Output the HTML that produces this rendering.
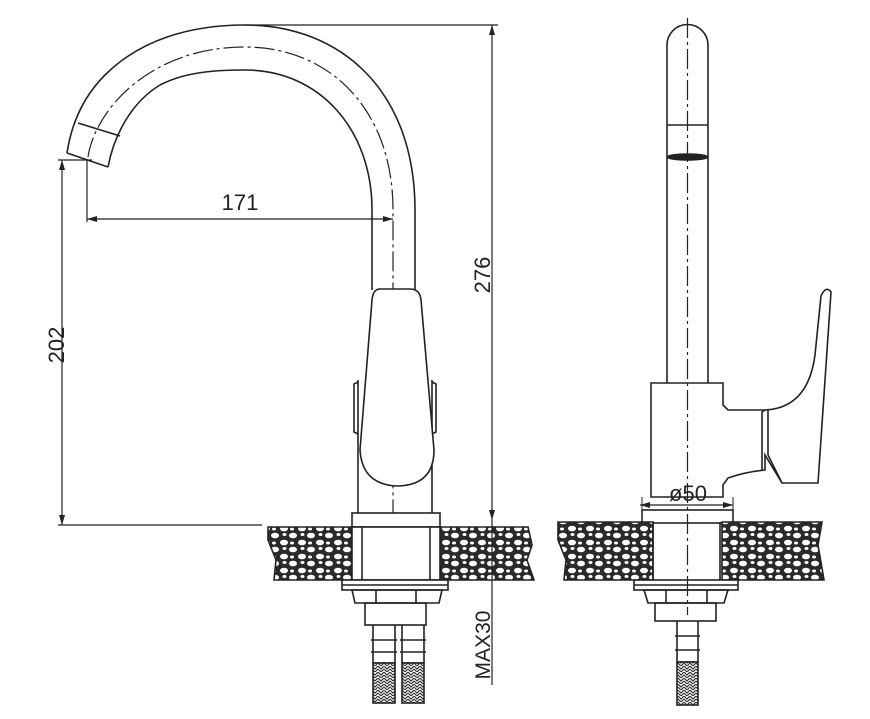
<!DOCTYPE html>
<html><head><style>html,body{margin:0;padding:0;background:#fff}svg{display:block}</style></head>
<body>
<svg width="870" height="719" viewBox="0 0 870 719" xmlns="http://www.w3.org/2000/svg" font-family="Liberation Sans, sans-serif">
<defs>
<pattern id="stone" width="18" height="14" patternUnits="userSpaceOnUse">
<rect width="18" height="14" fill="#2a2a2a"/>
<ellipse cx="5" cy="3.5" rx="4" ry="2.8" fill="#fff"/>
<ellipse cx="14" cy="10.5" rx="4" ry="2.8" fill="#fff"/>
<ellipse cx="14.5" cy="2.5" rx="2" ry="1.5" fill="#fff"/>
<ellipse cx="4" cy="11" rx="2" ry="1.5" fill="#fff"/>
</pattern>
<pattern id="braid" width="6" height="6" patternUnits="userSpaceOnUse">
<rect width="6" height="6" fill="#fff"/>
<path d="M0 0 L3 3 L6 0 M0 3 L3 6 L6 3" stroke="#333" stroke-width="1.2" fill="none"/>
</pattern>
<marker id="ar" viewBox="0 0 10 6" refX="10" refY="3" markerWidth="10" markerHeight="6" orient="auto-start-reverse" markerUnits="userSpaceOnUse"><path d="M0 0 L10 3 L0 6Z" fill="#222"/></marker>
</defs>
<g stroke="#222" stroke-width="1.6" fill="none">
<path d="M67 153 C72 120 85 95 105 75 C140 40 190 25 245 25 C340 25 415 90 415 210 L415 290"/>
<path d="M108 167 C115 130 135 100 160 85 C185 72 215 70 245 70 C320 70 372 130 372 210 L372 290"/>
<path d="M67 153 L108 167"/>
<path d="M78 123 L120 136"/>
<path d="M88 157 C95 110 150 47 245 47 C330 47 393 110 393 210 L393 520" stroke-dasharray="20 4 3 4" stroke-width="1.2"/>
<path d="M358 380 L358 515 M432 380 L432 515"/>
<path d="M358 382 L354 384 L354 432 L358 434 M432 382 L436 384 L436 432 L432 434"/>
<path d="M380 289 L410 289 Q420 289 421 300 L434 450 Q434 485 398 486 Q362 485 360 450 L372 300 Q373 289 380 289Z" fill="#fff"/>
<rect x="352" y="513" width="88" height="14" fill="#fff"/>
<path d="M268 527 L352 527 L352 580 L274 580 L276 560 L268 540Z" fill="url(#stone)"/>
<path d="M440 527 L528 527 L532 545 L527 560 L534 580 L440 580Z" fill="url(#stone)"/>
<rect x="352" y="527" width="88" height="53" fill="#fff"/>
<path d="M362 527 L362 580 M430 527 L430 580"/>
<rect x="342" y="580" width="106" height="10" fill="#fff"/>
<path d="M342 585 L448 585"/>
<path d="M352 590 L442 590 L439 603 L355 603Z M376 590 L376 603 M416 590 L416 603"/>
<rect x="365" y="603" width="61" height="22"/>
<path d="M373 625 L373 663 L395 663 L395 625 M371 640 L397 640 M371 652 L397 652 M402 625 L402 663 L424 663 L424 625 M400 640 L426 640 M400 652 L426 652"/>
<rect x="373" y="663" width="22" height="40" fill="url(#braid)"/>
<rect x="402" y="663" width="22" height="40" fill="url(#braid)"/>
</g>
<g stroke="#222" stroke-width="1.2" fill="none">
<path d="M87 160 L87 222"/>
<path d="M87 219 L393 219" marker-start="url(#ar)" marker-end="url(#ar)"/>
<path d="M58 160 L92 160 M58 525 L262 525"/>
<path d="M62 160 L62 525" marker-start="url(#ar)" marker-end="url(#ar)"/>
<path d="M245 25 L498 25"/>
<path d="M492 25 L492 520" marker-start="url(#ar)" marker-end="url(#ar)"/>
<path d="M492 520 L492 685"/>
</g>
<g stroke="#222" stroke-width="1.6" fill="none">
<path d="M667 383 L667 45 A20.5 20.5 0 0 1 708 45 L708 383"/>
<path d="M667 125 L708 125"/>
<ellipse cx="687.5" cy="157" rx="20" ry="3" fill="#222"/>
<path d="M651 383 L723 383 L723 405 L728 410 L765 410 Q808 408 815 355 L821 296 Q826 285 831 292 L818 483 L782 483 L765 455 L765 470 Q745 472 728 478 L723 485 L723 497 L651 497Z" fill="#fff"/>
<path d="M765 410 L762 412 L762 470 M768 410 L768 455 L782 483"/>
<path d="M640 505 L733 505" stroke-width="1.2" marker-start="url(#ar)" marker-end="url(#ar)"/>
<path d="M642 497 L642 510 M733 497 L733 510" stroke-width="1"/>
<rect x="642" y="510" width="91" height="13" fill="#fff"/>
<path d="M558 522 L653 522 L653 580 L564 580 L566 560 L558 540Z" fill="url(#stone)"/>
<path d="M722 522 L822 522 L818 545 L824 580 L722 580Z" fill="url(#stone)"/>
<path d="M653 522 L653 580 M720 522 L720 580"/>
<rect x="634" y="580" width="104" height="10" fill="#fff"/>
<path d="M634 585 L738 585"/>
<path d="M644 590 L728 590 L724 603 L648 603Z M666 590 L666 603 M707 590 L707 603"/>
<rect x="655" y="603" width="61" height="18"/>
<path d="M677 621 L677 662 L698 662 L698 621 M675 636 L700 636 M675 650 L700 650"/>
<rect x="677" y="662" width="21" height="43" fill="url(#braid)"/>
<path d="M687.5 18 L687.5 615" stroke-width="1.2" stroke-dasharray="20 4 3 4"/>
</g>
<g fill="#222" font-size="22">
<text x="240" y="210" text-anchor="middle">171</text>
<text transform="translate(64,345) rotate(-90)" text-anchor="middle">202</text>
<text transform="translate(490,275) rotate(-90)" text-anchor="middle">276</text>
<text transform="translate(490,645) rotate(-90)" text-anchor="middle" font-size="21">MAX30</text>
<text x="688" y="501" text-anchor="middle">ø50</text>
</g>
</svg>
</body></html>
